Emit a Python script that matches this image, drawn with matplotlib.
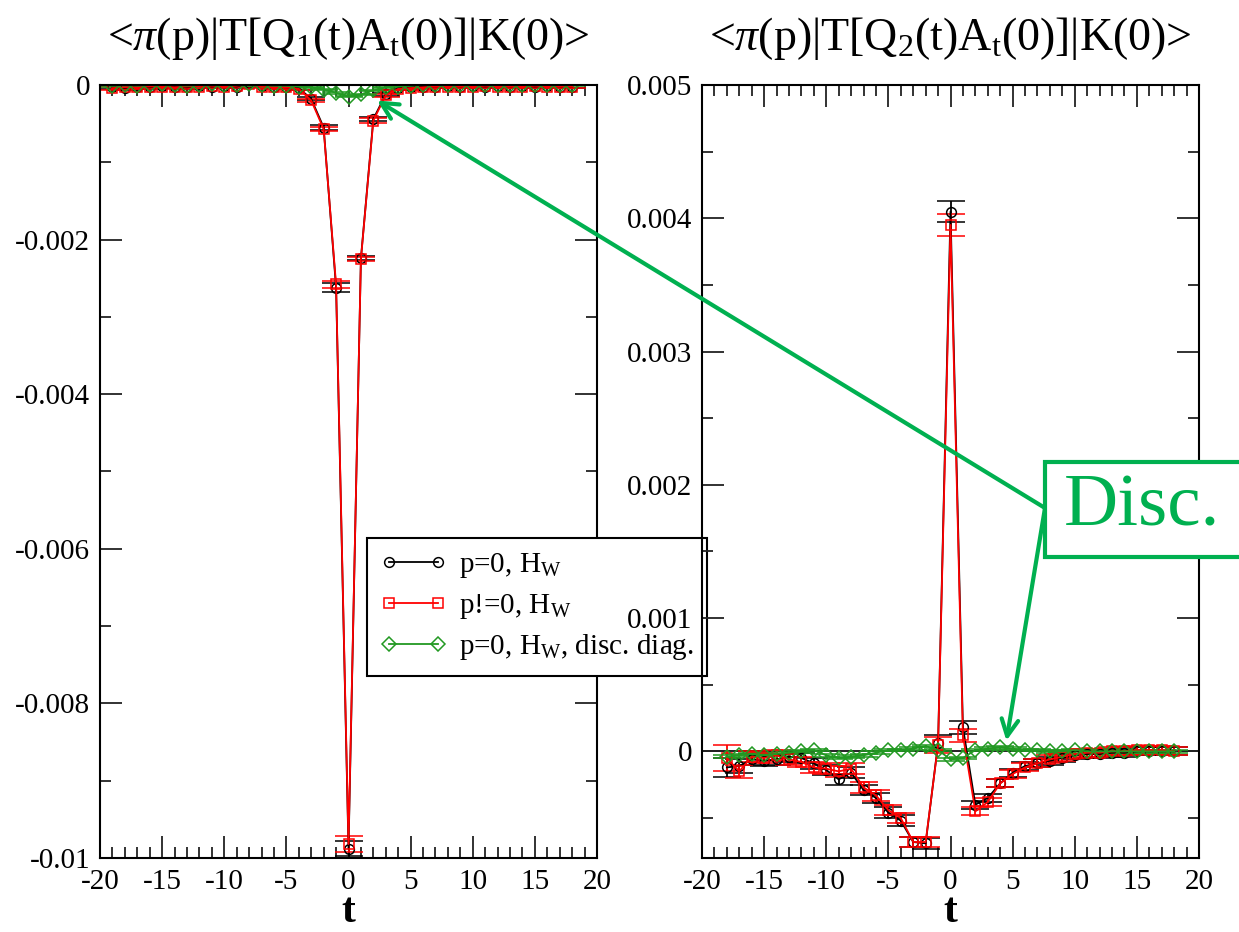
import numpy as np
import matplotlib
matplotlib.use("Agg")
import matplotlib.pyplot as plt
from matplotlib.ticker import MultipleLocator, FuncFormatter
from matplotlib.patches import Rectangle
from matplotlib.lines import Line2D

plt.rcParams['font.family'] = ['Liberation Serif', 'DejaVu Serif']
plt.rcParams['mathtext.fontset'] = 'custom'
plt.rcParams['mathtext.rm'] = 'Liberation Serif'
plt.rcParams['mathtext.it'] = 'Liberation Serif:italic'
plt.rcParams['axes.unicode_minus'] = False

# ---- left panel: Q1 ----
t_left = np.arange(-19, 19)
q1_p0 = [-0.00003, -0.00004, -0.00002, -0.00003, -0.00001, -0.00002, -0.00003, -0.00001,
         -0.00002, -0.00001, -0.00002, 0.00002, -0.00001, -0.00002, -0.00003, -0.00004,
         -0.00018, -0.00055, -0.00262, -0.00988, -0.00224, -0.00044, -0.00012, -0.00004,
         -0.00003, -0.00002, -0.00002, -0.00001, -0.00002, -0.00001, -0.00002, -0.00001,
         -0.00002, -0.00001, -0.00002, -0.00001, -0.00002, -0.00002]
q1_p0_err = [0.00002] * 16 + [0.00002, 0.00003, 0.00006, 0.0001, 0.00003, 0.00003] + [0.00002] * 16
q1_pn = [-0.00004, -0.00003, -0.00003, -0.00002, -0.00002, -0.00003, -0.00002, -0.00002,
         -0.00001, -0.00002, -0.00001, 0.00001, -0.00002, -0.00003, -0.00003, -0.00005,
         -0.0002, -0.00057, -0.00258, -0.00982, -0.00225, -0.00046, -0.00013, -0.00005,
         -0.00004, -0.00003, -0.00002, -0.00002, -0.00002, -0.00002, -0.00001, -0.00002,
         -0.00002, -0.00002, -0.00001, -0.00002, -0.00002, -0.00002]
q1_pn_err = [0.00002] * 16 + [0.00002, 0.00003, 0.00005, 0.0001, 0.00003, 0.00003] + [0.00002] * 16
q1_disc = [-0.00001, 0.0, -0.00001, 0.0, 0.00001, 0.0, -0.00001, 0.0, 0.00001, 0.0,
           0.0, 0.00001, 0.0, -0.00001, -0.00001, -0.00002, -0.00003, -0.00006, -0.0001,
           -0.00015, -0.00012, -0.00007, -0.00003, -0.00002, -0.00001, 0.0, 0.0, 0.0,
           0.0, 0.0, 0.0, 0.0, 0.0, 0.0, 0.0, 0.0, 0.0, 0.0]
q1_disc_err = [0.00001] * 38

# ---- right panel: Q2 ----
t_right = np.arange(-18, 19)
q2_p0 = [-0.00012, -0.00011, -0.00006, -0.00007, -0.00006, -0.00004, -0.00005, -0.00009,
         -0.00014, -0.00021, -0.00016, -0.00029, -0.00035, -0.00046, -0.00052, -0.00068,
         -0.00069, 0.00006, 0.00405, 0.00018, -0.0004, -0.00035, -0.00024, -0.00016,
         -0.00011, -0.00009, -0.00007, -0.00005, -0.00003, -0.00002, -0.00002, -0.00001,
         -0.00001, 0.0, 0.0, 0.0, 0.0]
q2_p0_err = [0.00007, 0.00005] + [0.00004] * 15 + [0.00006, 0.00008, 0.00005] + [0.00003] * 17
q2_pn = [-0.00005, -0.00015, -0.00004, -0.00005, -0.00003, -0.00006, -0.00008, -0.00012,
         -0.00013, -0.00015, -0.00013, -0.00027, -0.00033, -0.00044, -0.0005, -0.00068,
         -0.00068, 0.00005, 0.00395, 0.00012, -0.00045, -0.00038, -0.00024, -0.00017,
         -0.00012, -0.00009, -0.00006, -0.00004, -0.00002, -0.00001, -0.00001, 0.0,
         0.0, 0.00001, 0.00001, 0.00001, 0.0]
q2_pn_err = [0.0001, 0.00005] + [0.00004] * 15 + [0.00006, 0.00008, 0.00005] + [0.00003] * 17
q2_disc = [-0.00004, -0.00003, -0.00002, -0.00003, -0.00002, -0.00001, 0.0, 0.00001,
           -0.00003, -0.00005, -0.00004, -0.00003, -0.00001, 0.00001, 0.00001, 0.00002,
           0.00004, 0.00001, -0.00006, -0.00005, 0.00001, 0.00002, 0.00003, 0.00002,
           0.00001, 0.00001, 0.0, 0.0, 0.00001, 0.0, 0.0, 0.0, 0.0, 0.0, 0.0, 0.0, 0.0]
q2_disc_err = [0.00001] * 37

labels = ['p=0, H$_\\mathrm{W}$', 'p!=0, H$_\\mathrm{W}$', 'p=0, H$_\\mathrm{W}$, disc. diag.']
titles = ['<$\\pi$(p)|T[Q$_\\mathrm{1}$(t)A$_\\mathrm{t}$(0)]|K(0)>',
          '<$\\pi$(p)|T[Q$_\\mathrm{2}$(t)A$_\\mathrm{t}$(0)]|K(0)>']

BLACK = 'black'
RED = '#ff0000'
GREEN = '#229922'
ANN = '#00b050'

fig = plt.figure(figsize=(12.39, 9.32), dpi=100)
W, H = 1239, 932
ax1 = fig.add_axes([100 / W, 1 - 858 / H, 497 / W, 773 / H])
ax2 = fig.add_axes([702 / W, 1 - 858 / H, 497 / W, 773 / H])
ax2.patch.set_alpha(0)


def draw(ax, t, series):
    for y, e, col, mk in series:
        ax.errorbar(t, y, yerr=e, color=col, marker=mk, ms=7, mfc='none', mec=col,
                    mew=1.1, lw=1.3, elinewidth=1.3, capsize=10, capthick=1.4)


styles = [(BLACK, 'o'), (RED, 's'), (GREEN, 'D')]
draw(ax1, t_left, [(q1_p0, q1_p0_err) + styles[0], (q1_pn, q1_pn_err) + styles[1],
                   (q1_disc, q1_disc_err) + styles[2]])
draw(ax2, t_right, [(q2_p0, q2_p0_err) + styles[0], (q2_pn, q2_pn_err) + styles[1],
                    (q2_disc, q2_disc_err) + styles[2]])
ax2.axhline(0, color='black', lw=1.2, zorder=0.5)

ax1.set_ylim(-0.01, 0.0)
ax2.set_ylim(-0.0008, 0.005)
fmt = FuncFormatter(lambda v, p: '%g' % round(v, 6))
for ax, major in ((ax1, 0.002), (ax2, 0.001)):
    ax.set_xlim(-20, 20)
    ax.xaxis.set_major_locator(MultipleLocator(5))
    ax.xaxis.set_minor_locator(MultipleLocator(1))
    ax.yaxis.set_major_locator(MultipleLocator(major))
    ax.yaxis.set_minor_locator(MultipleLocator(major / 2))
    ax.yaxis.set_major_formatter(fmt)
    ax.tick_params(which='both', direction='in', top=True, right=True,
                   labelsize=21, width=1.3, color='#222222')
    ax.tick_params(which='major', length=16)
    ax.tick_params(which='minor', length=8)
    ax.tick_params(axis='x', pad=8)
    ax.tick_params(axis='y', pad=7)
    for s in ax.spines.values():
        s.set_linewidth(1.5)

for ax, ttl in zip((ax1, ax2), titles):
    b = ax.get_position()
    fig.text((b.x0 + b.x1) / 2, 1 - 38 / H, ttl, ha='center', va='center', fontsize=33)
    fig.text((b.x0 + b.x1) / 2, 1 - 912 / H, 't', ha='center', va='center',
             fontsize=30, fontweight='bold')

handles = [Line2D([], [], color=c, marker=m, ms=7, mfc='none', mew=1.1, lw=1.3)
           for c, m in styles]
leg = ax1.legend(handles, labels, loc='upper left', bbox_to_anchor=(367 / W, 1 - 538 / H),
                 bbox_transform=fig.transFigure, borderaxespad=0, fontsize=21, numpoints=2,
                 handlelength=2.3, fancybox=False, framealpha=1, edgecolor='black',
                 borderpad=0.45, labelspacing=0.4, handletextpad=0.4)
leg.get_frame().set_linewidth(1.5)
leg.set_zorder(10)

# annotation box "Disc."
fig.add_artist(Rectangle((1045 / W, 1 - 557 / H), 230 / W, 95 / H, transform=fig.transFigure,
                         fc='white', ec=ANN, lw=3, zorder=20))
fig.text(1142 / W, 1 - 508 / H, 'Disc.', color=ANN, fontsize=54, ha='center', va='center',
         zorder=21)
start = (1045 / W, 1 - 508 / H)
for ax, tip in ((ax1, (2.3, -0.0002)), (ax2, (4.5, 0.00008))):
    ax2.annotate('', xy=tip, xycoords=ax.transData, xytext=start, textcoords='figure fraction',
                 arrowprops=dict(arrowstyle='->', color=ANN, lw=3, shrinkA=0, shrinkB=0,
                                 mutation_scale=30),
                 annotation_clip=False, zorder=19)

fig.savefig('out.png', dpi=100)
